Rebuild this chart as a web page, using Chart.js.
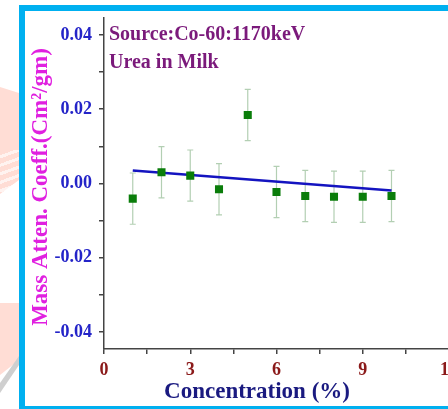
<!DOCTYPE html>
<html lang="en">
<head>
  <meta charset="UTF-8" />
  <title>Urea in Milk</title>
  <script src="https://cdn.jsdelivr.net/npm/chart.js"></script>
  <style>
    html, body {
      margin: 0;
      padding: 0;
      overflow: hidden;
      background: #ffffff;
    }
    #page {
      position: relative;
      width: 448px;
      height: 409px;
      overflow: hidden;
      background: #ffffff;
    }
    .mark {
      position: absolute;
      left: 0;
      width: 19px;
      background: #ffddd5;
    }
    .bar {
      position: absolute;
      background: #00b0f0;
    }
    #chart {
      position: absolute;
      left: 0;
      top: 0;
    }
  </style>
</head>
<body>
<div id="page">
  <div class="mark" style="top:85px;height:66px;clip-path:polygon(0 2px,100% 8px,100% 100%,0 100%);"></div>
  <div class="mark" style="top:150px;height:44px;background:repeating-linear-gradient(160deg,#ffddd5 0 5px,#fff3f0 5px 8px);clip-path:polygon(0 0,100% 0,100% 30px,0 44px);"></div>
  <div class="mark" style="top:303px;height:75px;clip-path:polygon(0 0,100% 0,100% 57px,0 72px);"></div>
  <div class="mark" style="top:356px;height:40px;background:#cfcfcf;clip-path:polygon(100% 0,100% 9px,0 37px,0 27px);"></div>
  <div class="bar" style="left:19px;top:5px;width:440px;height:6px;"></div>
  <div class="bar" style="left:19px;top:5px;width:6px;height:404px;"></div>
  <div class="bar" style="left:19px;top:406px;width:440px;height:3px;"></div>
  <canvas id="chart" width="470" height="409"></canvas>
</div>

  <script>
    // concentration (%) and mass attenuation coefficient
    const concentration = [1, 2, 3, 4, 5, 6, 7, 8, 9, 10];
    const coeff = [-0.0041, 0.0030, 0.0021, -0.0016, 0.0184, -0.0023, -0.0034, -0.0036, -0.0036, -0.0034];
    const errors = [0.0069, 0.0069, 0.0069, 0.0069, 0.0069, 0.0069, 0.0069, 0.0069, 0.0069, 0.0069];

    // linear fit end points
    const fitX = [1, 10];
    const fitY = [0.0035, -0.0019];

    const xTicks = [0, 1.5, 3, 4.5, 6, 7.5, 9, 10.5, 12];
    const yTicks = [-0.04, -0.03, -0.02, -0.01, 0, 0.01, 0.02, 0.03, 0.04];

    const serif = '"Liberation Serif", "Times New Roman", serif';

    const errorBars = {
      id: 'errorBars',
      beforeDatasetsDraw(chart) {
        const ctx = chart.ctx;
        const x = chart.scales.x, y = chart.scales.y;
        ctx.save();
        ctx.strokeStyle = '#b3cfb3';
        ctx.lineWidth = 1.2;
        concentration.forEach((c, i) => {
          const px = x.getPixelForValue(c);
          const top = y.getPixelForValue(coeff[i] + errors[i]);
          const bot = y.getPixelForValue(coeff[i] - errors[i]);
          ctx.beginPath();
          ctx.moveTo(px, top); ctx.lineTo(px, bot);
          ctx.moveTo(px - 3, top); ctx.lineTo(px + 3, top);
          ctx.moveTo(px - 3, bot); ctx.lineTo(px + 3, bot);
          ctx.stroke();
        });
        ctx.restore();
      }
    };

    const labels = {
      id: 'labels',
      afterDraw(chart) {
        const ctx = chart.ctx;
        ctx.save();
        ctx.fillStyle = '#7b1a7b';
        ctx.font = 'bold 20px ' + serif;
        ctx.textAlign = 'left';
        ctx.textBaseline = 'alphabetic';
        ctx.fillText('Source:Co-60:1170keV', 109, 40);
        ctx.fillText('Urea in Milk', 109, 68);

        ctx.fillStyle = '#1a1a80';
        ctx.font = 'bold 23px ' + serif;
        ctx.textAlign = 'center';
        ctx.textBaseline = 'middle';
        ctx.fillText('Concentration (%)', 257, 392);

        ctx.translate(41, 187);
        ctx.rotate(-Math.PI / 2);
        ctx.fillStyle = '#e020e0';
        ctx.font = 'bold 23px ' + serif;
        ctx.fillText('Mass Atten. Coeff.(Cm\u00b2/gm)', 0, 0);
        ctx.restore();
      }
    };

    new Chart(document.getElementById('chart').getContext('2d'), {
      type: 'scatter',
      data: {
        datasets: [
          {
            label: 'Data',
            data: concentration.map((c, i) => ({ x: c, y: coeff[i] })),
            pointStyle: 'rect',
            pointRadius: 5.7,
            pointBackgroundColor: '#0a7d0a',
            pointBorderColor: '#0a7d0a',
            pointBorderWidth: 0,
            showLine: false
          },
          {
            label: 'Fit',
            type: 'line',
            data: fitX.map((v, i) => ({ x: v, y: fitY[i] })),
            borderColor: '#1414c0',
            borderWidth: 2.5,
            pointRadius: 0,
            fill: false
          }
        ]
      },
      options: {
        responsive: false,
        animation: false,
        devicePixelRatio: 1,
        layout: { padding: { left: 0, top: 17, right: 21, bottom: 0 } },
        plugins: {
          legend: { display: false },
          tooltip: { enabled: false }
        },
        scales: {
          x: {
            type: 'linear',
            min: 0,
            max: 12,
            afterBuildTicks: s => { s.ticks = xTicks.map(v => ({ value: v })); },
            afterFit: s => { s.height = 60; },
            border: { display: true, color: '#444444', width: 1.5 },
            grid: { drawOnChartArea: false, drawTicks: true, tickLength: 5, color: '#444444', lineWidth: 1.5 },
            ticks: {
              autoSkip: false,
              maxRotation: 0,
              padding: 6,
              color: '#8b1a1a',
              font: { family: serif, size: 18, weight: 'bold' },
              callback: v => (v % 3 === 0 ? String(v) : '')
            }
          },
          y: {
            min: -0.0446,
            max: 0.0446,
            afterBuildTicks: s => { s.ticks = yTicks.map(v => ({ value: v })); },
            afterFit: s => { s.width = 104; },
            border: { display: true, color: '#444444', width: 1.5 },
            grid: { drawOnChartArea: false, drawTicks: true, tickLength: 5, color: '#444444', lineWidth: 1.5 },
            ticks: {
              autoSkip: false,
              padding: 7,
              color: '#2424c8',
              font: { family: serif, size: 18, weight: 'bold' },
              callback: v => (Math.round(v * 100) % 2 === 0 ? v.toFixed(2) : '')
            }
          }
        }
      },
      plugins: [errorBars, labels]
    });
  </script>
</body>
</html>
